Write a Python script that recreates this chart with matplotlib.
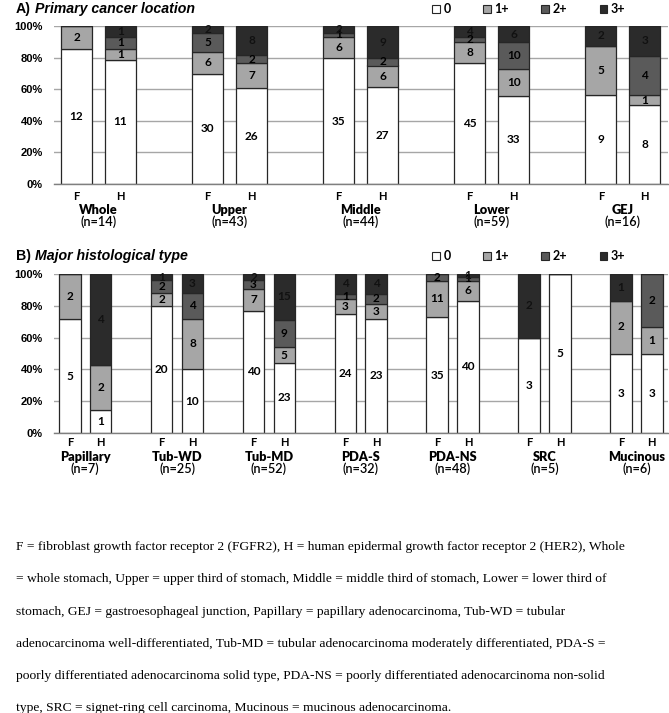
import matplotlib
matplotlib.use("Agg")
import matplotlib.pyplot as plt
from matplotlib.patches import Patch
from matplotlib.transforms import blended_transform_factory
import numpy as np

plt.rcParams["font.family"] = ["Lato", "DejaVu Sans"]

grades = ["0", "1+", "2+", "3+"]
grade_colors = ["#ffffff", "#a6a6a6", "#5a5a5a", "#2b2b2b"]
label_colors = ["#000000", "#000000", "#000000", "#111111"]

# counts per grade (0, 1+, 2+, 3+)
loc_names = ["Whole", "Upper", "Middle", "Lower", "GEJ"]
loc_n = [14, 43, 44, 59, 16]
loc_fgfr2 = [[12, 2, 0, 0], [30, 6, 5, 2], [35, 6, 1, 2], [45, 8, 2, 4], [9, 5, 0, 2]]
loc_her2 = [[11, 1, 1, 1], [26, 7, 2, 8], [27, 6, 2, 9], [33, 10, 10, 6], [8, 1, 4, 3]]

hist_names = ["Papillary", "Tub-WD", "Tub-MD", "PDA-S", "PDA-NS", "SRC", "Mucinous"]
hist_n = [7, 25, 52, 32, 48, 5, 6]
hist_fgfr2 = [[5, 2, 0, 0], [20, 2, 2, 1], [40, 7, 3, 2], [24, 3, 1, 4],
              [35, 11, 2, 0], [3, 0, 0, 2], [3, 2, 0, 1]]
hist_her2 = [[1, 2, 0, 4], [10, 8, 4, 3], [23, 5, 9, 15], [23, 3, 2, 4],
             [40, 6, 1, 1], [5, 0, 0, 0], [3, 1, 2, 0]]

footnote = [
    "F = fibroblast growth factor receptor 2 (FGFR2), H = human epidermal growth factor receptor 2 (HER2), Whole",
    "= whole stomach, Upper = upper third of stomach, Middle = middle third of stomach, Lower = lower third of",
    "stomach, GEJ = gastroesophageal junction, Papillary = papillary adenocarcinoma, Tub-WD = tubular",
    "adenocarcinoma well-differentiated, Tub-MD = tubular adenocarcinoma moderately differentiated, PDA-S =",
    "poorly differentiated adenocarcinoma solid type, PDA-NS = poorly differentiated adenocarcinoma non-solid",
    "type, SRC = signet-ring cell carcinoma, Mucinous = mucinous adenocarcinoma.",
]

W, H = 669, 713
fig = plt.figure(figsize=(W / 100, H / 100), dpi=100)


def fy(px):
    return 1 - px / H


def draw_panel(ax, names, ns, fgfr2, her2, letter, title, title_y, ticks_y):
    x = np.arange(len(names))
    for off, data in ((-0.168, fgfr2), (0.168, her2)):
        counts = np.array(data, dtype=float)
        pct = counts / counts.sum(axis=1)[:, None] * 100
        bottom = np.zeros(len(names))
        for g in range(4):
            bars = ax.bar(x + off, pct[:, g], 0.235, bottom=bottom,
                          color=grade_colors[g], edgecolor="#262626",
                          linewidth=0.9, zorder=2)
            labels = [str(int(c)) if c > 0 else "" for c in counts[:, g]]
            ax.bar_label(bars, labels=labels, label_type="center",
                         fontsize=8.5, fontweight="bold", color=label_colors[g])
            bottom += pct[:, g]

    ax.set_xlim(-0.34, len(names) - 1 + 0.345)
    ax.set_ylim(0, 100)
    ax.set_yticks([0, 20, 40, 60, 80, 100])
    ax.set_yticklabels([f"{v}%" for v in range(0, 101, 20)],
                       fontfamily="Liberation Sans", fontweight="bold", fontsize=8)
    ax.set_xticks([])
    ax.tick_params(axis="y", length=0, pad=8)
    ax.grid(axis="y", color="#a6a6a6", linewidth=1)
    ax.set_axisbelow(True)
    for s in ("top", "right", "left"):
        ax.spines[s].set_visible(False)
    ax.spines["bottom"].set_color("#7f7f7f")
    ax.spines["bottom"].set_linewidth(1)

    tr = blended_transform_factory(ax.transData, fig.transFigure)
    for i, (name, n) in enumerate(zip(names, ns)):
        ax.text(i - 0.168, fy(ticks_y), "F", transform=tr, ha="center", va="center",
                fontsize=8, fontweight="bold")
        ax.text(i + 0.168, fy(ticks_y), "H", transform=tr, ha="center", va="center",
                fontsize=8, fontweight="bold")
        ax.text(i, fy(ticks_y + 14), name, transform=tr, ha="center", va="center",
                fontsize=9.2, fontweight="heavy")
        ax.text(i, fy(ticks_y + 26), f"(n={n})", transform=tr, ha="center", va="center",
                fontsize=9.2, fontweight="semibold")

    t = fig.text(16 / W, fy(title_y), f"{letter})", ha="left", va="center",
                 fontfamily="Liberation Sans", fontweight="bold", fontsize=10.2)
    ax.annotate(title, xy=(1, 0), xycoords=t, xytext=(3, 0), textcoords="offset points",
                ha="left", va="bottom", fontfamily="Liberation Sans",
                fontweight="bold", fontstyle="italic", fontsize=10.2)

    handles = [Patch(facecolor=c, edgecolor="#262626", linewidth=0.8) for c in grade_colors]
    fig.legend(handles, grades, loc="center left",
               bbox_to_anchor=(432 / W, fy(title_y)), ncol=4, frameon=False,
               handlelength=0.6, handleheight=0.6, handletextpad=0.3,
               columnspacing=2.6, borderaxespad=0, borderpad=0,
               prop={"weight": "bold", "size": 9})


axA = fig.add_axes([54 / W, fy(184), (668 - 54) / W, (184 - 26) / H])
draw_panel(axA, loc_names, loc_n, loc_fgfr2, loc_her2,
           "A", "Primary cancer location", 9, 196)

axB = fig.add_axes([54 / W, fy(433), (668 - 54) / W, (433 - 274) / H])
draw_panel(axB, hist_names, hist_n, hist_fgfr2, hist_her2,
           "B", "Major histological type", 256, 443)

for i, line in enumerate(footnote):
    fig.text(16 / W, fy(547 + i * 32.3), line, ha="left", va="center",
             fontfamily="Liberation Serif", fontsize=9.7)

fig.savefig("out.png", dpi=100)
